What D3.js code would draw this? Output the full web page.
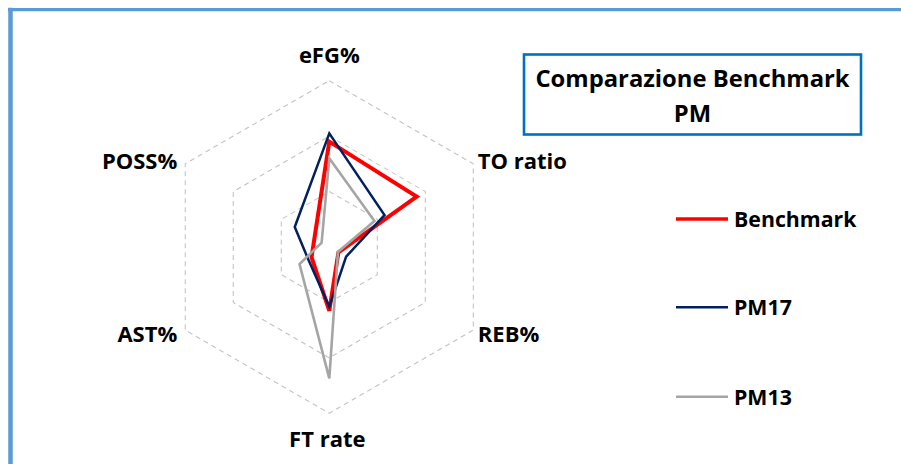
<!DOCTYPE html>
<html><head><meta charset="utf-8">
<script src="https://cdn.jsdelivr.net/npm/d3@7"></script>
<style>html,body{margin:0;padding:0;background:#fff;overflow:hidden}</style>
</head><body>
<script>
const axesLabels = ["eFG%", "TO ratio", "REB%", "FT rate", "AST%", "POSS%"];
const seriesNames = ["Benchmark", "PM17", "PM13"];
const benchmark = [1.90, 1.82, 0.19, 1.15, 0.37, 0.31];
const pm17 = [2.05, 1.15, 0.35, 1.08, 0.44, 0.72];
const pm13 = [1.60, 0.94, 0.18, 2.37, 0.62, 0.16];
const gridLevels = [1, 2, 3];
const titleLines = ["Comparazione Benchmark", "PM"];

const W = 901, H = 464;
const svg = d3.select("body").append("svg").attr("width", W).attr("height", H);
const font = "'Open Sans', sans-serif";

// outer frame
svg.append("line").attr("x1", 10.5).attr("x2", 10.5).attr("y1", 7.8).attr("y2", H + 5)
  .attr("stroke", "#5B9BD5").attr("stroke-width", 4.5);
svg.append("line").attr("x1", 8).attr("x2", W + 5).attr("y1", 9.6).attr("y2", 9.6)
  .attr("stroke", "#5B9BD5").attr("stroke-width", 3.4);

const cx = 329.3, cy = 247;
const r = d3.scaleLinear().domain([0, 3]).range([0, 166.3]);
const n = axesLabels.length;
const angle = d3.scaleLinear().domain([0, n]).range([0, 2 * Math.PI]);
const pt = (i, v) => [cx + r(v) * Math.sin(angle(i)), cy - r(v) * Math.cos(angle(i))];

// grid hexagons
const g = svg.append("g");
gridLevels.forEach(l => {
  g.append("path")
    .attr("d", d3.line()(d3.range(n).map(i => pt(i, l))) + "Z")
    .attr("fill", "none").attr("stroke", "#C4C4C4").attr("stroke-width", 1.1)
    .attr("stroke-dasharray", "5,4");
});

// series
const series = [
  {name: seriesNames[0], values: benchmark, color: "#FF0000", width: 4},
  {name: seriesNames[1], values: pm17, color: "#002060", width: 2.5},
  {name: seriesNames[2], values: pm13, color: "#A5A5A5", width: 2.6}
];
series.forEach(s => {
  g.append("path")
    .attr("d", d3.line()(s.values.map((v, i) => pt(i, v))) + "Z")
    .attr("fill", "none").attr("stroke", s.color).attr("stroke-width", s.width)
    .attr("stroke-linejoin", "miter");
});

// axis labels
const maxV = r.domain()[1];
axesLabels.forEach((lab, i) => {
  const [x, y] = pt(i, maxV);
  let anchor = "middle", dx = 0, dy = 0;
  const a = angle(i);
  const sx = Math.sin(a), cyy = Math.cos(a);
  if (Math.abs(sx) < 0.01) {
    dy = cyy > 0 ? -17.7 : 33.6;
    dx = cyy > 0 ? 0 : -2;
  } else {
    anchor = sx > 0 ? "start" : "end";
    dx = sx > 0 ? 4.5 : -8;
    dy = cyy > 0 ? 5 : 11.5;
  }
  svg.append("text").attr("x", x + dx).attr("y", y + dy)
    .attr("text-anchor", anchor)
    .attr("font-family", font).attr("font-weight", 700).attr("font-size", 22)
    .attr("fill", "#000").text(lab);
});

// title box
svg.append("rect").attr("x", 524).attr("y", 54.5).attr("width", 337).attr("height", 80)
  .attr("fill", "#fff").attr("stroke", "#0070C0").attr("stroke-width", 2.6);
titleLines.forEach((t, i) => {
  svg.append("text").attr("x", 692.5).attr("y", 86.7 + i * 35)
    .attr("text-anchor", "middle")
    .attr("font-family", font).attr("font-weight", 700).attr("font-size", 23.8)
    .attr("fill", "#000").text(t);
});

// legend
const legendY = [219, 307.3, 396.7];
series.forEach((s, i) => {
  svg.append("line").attr("x1", 676).attr("x2", 728).attr("y1", legendY[i]).attr("y2", legendY[i])
    .attr("stroke", s.color).attr("stroke-width", s.width === 4 ? 3.5 : 2.5);
  svg.append("text").attr("x", 734).attr("y", legendY[i] + 7.8)
    .attr("font-family", font).attr("font-weight", 700).attr("font-size", 21.3)
    .attr("fill", "#000").text(s.name);
});
</script>
</body></html>
